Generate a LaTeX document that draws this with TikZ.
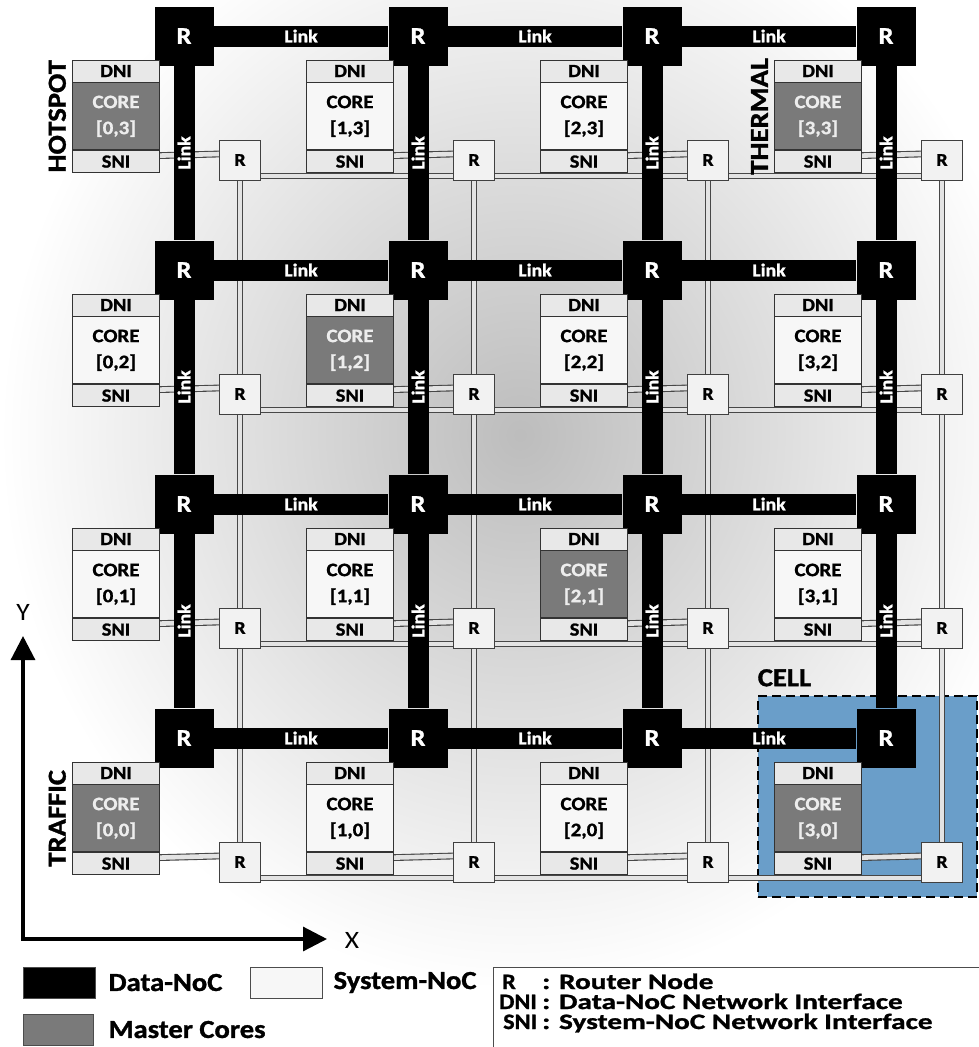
\documentclass[tikz,border=0pt]{standalone}
\usepackage{fontspec}
\setmainfont{Carlito}[FakeStretch=1.1, BoldFeatures={FakeBold=1.2}]
\newfontfamily\keyfont{Carlito}[FakeStretch=1.33, BoldFeatures={FakeBold=1.2}]
\usetikzlibrary{arrows.meta,positioning}
\definecolor{cellblue}{RGB}{106,158,201}
\pgfdeclarelayer{backdrop}
\pgfdeclarelayer{syslinks}
\pgfdeclarelayer{datalinks}
\pgfsetlayers{backdrop,syslinks,datalinks,main}
\tikzset{
  drouter/.style={rectangle, fill=black, minimum size=59pt, inner sep=0pt, text=white, font=\bfseries\fontsize{24}{24}\selectfont},
  srouter/.style={rectangle, draw=black!75, line width=0.8pt, fill=black!5, minimum width=41pt, minimum height=40pt, inner sep=0pt, font=\bfseries\fontsize{18}{18}\selectfont},
  dlink/.style={line width=21pt, draw=black},
  slink/.style={draw=black!72, line width=1.1pt, double=black!11, double distance=4.6pt},
  linktag/.style={text=white, inner sep=0pt, font=\bfseries\fontsize{18}{18}\selectfont},
  nibox/.style={rectangle, draw=black!80, line width=0.8pt, fill=black!9, minimum width=87pt, minimum height=22pt, inner sep=0pt, font=\bfseries\fontsize{18.5}{18.5}\selectfont},
  corebox/.style={rectangle, draw=black!80, line width=0.8pt, fill=black!3, minimum width=87pt, minimum height=67pt, inner sep=0pt, align=center, font=\bfseries\fontsize{19}{26}\selectfont},
  masterbox/.style={corebox, fill=black!52, text=black!7},
  sidetag/.style={rotate=90, inner sep=0pt, font=\bfseries\fontsize{26}{26}\selectfont},
  cellbox/.style={rectangle, draw=black, line width=2.8pt, dash pattern=on 9pt off 5pt, fill=cellblue, minimum width=219pt, minimum height=201pt, inner sep=0pt},
  axisline/.style={line width=3.2pt, {Triangle[length=24pt,width=24pt]}-{Triangle[length=24pt,width=24pt]}},
  axistext/.style={inner sep=0pt, font=\fontsize{25}{25}\selectfont},
  legsq/.style={rectangle, draw=black!70, line width=0.8pt, minimum width=72pt, minimum height=31pt, inner sep=0pt},
  legtext/.style={inner sep=0pt, font=\bfseries\fontsize{26}{26}\selectfont},
  keytext/.style={inner sep=0pt, anchor=base west, font=\bfseries\fontsize{22}{22}\selectfont},
  keydesc/.style={keytext, font=\keyfont\bfseries\fontsize{22}{22}\selectfont}
}
\begin{document}
\begin{tikzpicture}[x=1pt, y=-1pt]
\useasboundingbox (0,0) rectangle (979,1047);
\begin{pgfonlayer}{backdrop}
  \fill[white] (0,0) rectangle (979,1047);
  \shade[inner color=black!26, outer color=white] (0,-120) rectangle (1040,990);
  \node[cellbox] (cell) at (867.5,796.5) {};
\end{pgfonlayer}

% routers of both networks
\foreach \i in {0,...,3} \foreach \j in {0,...,3} {
  \node[drouter] (dr\i\j) at ({184+234*\i},{36+234*(3-\j)}) {R};
  \node[srouter] (sr\i\j) at ({240+234*\i},{160+234*(3-\j)}) {R};
}

% cores with their two network interfaces
\foreach \i/\j/\kind in {0/3/masterbox,1/3/corebox,2/3/corebox,3/3/masterbox,
  0/2/corebox,1/2/masterbox,2/2/corebox,3/2/corebox,
  0/1/corebox,1/1/corebox,2/1/masterbox,3/1/corebox,
  0/0/masterbox,1/0/corebox,2/0/corebox,3/0/masterbox} {
  \node[nibox] (dni\i\j) at ({116+234*\i},{71+234*(3-\j)}) {DNI};
  \node[\kind, below=0pt of dni\i\j] (core\i\j) {CORE\\{[\i,\j]}};
  \node[nibox, below=0pt of core\i\j] (sni\i\j) {SNI};
}

% System-NoC
\begin{pgfonlayer}{syslinks}
\foreach \i in {0,...,3} \foreach \j in {0,...,3} {
  \draw[slink] ([yshift=6pt]sni\i\j.east) -- ([yshift=6pt]sr\i\j.west);
}
\foreach \i in {0,...,3} \foreach \j in {1,2,3} {
  \pgfmathtruncatemacro\k{\j-1}
  \draw[slink] (sr\i\j) -- (sr\i\k);
}
\foreach \i in {0,1,2} \foreach \j in {0,...,3} {
  \pgfmathtruncatemacro\n{\i+1}
  \draw[slink] ([yshift=-16pt]sr\i\j.east) -- ([yshift=-16pt]sr\n\j.west);
}
\end{pgfonlayer}

% Data-NoC
\begin{pgfonlayer}{datalinks}
\foreach \i in {0,...,3} \foreach \j in {1,2,3} {
  \pgfmathtruncatemacro\k{\j-1}
  \draw[dlink] (dr\i\j) -- node[linktag, rotate=90] {Link} (dr\i\k);
}
\foreach \i in {0,1,2} \foreach \j in {0,...,3} {
  \pgfmathtruncatemacro\n{\i+1}
  \draw[dlink] (dr\i\j) -- node[linktag] {Link} (dr\n\j);
}
\end{pgfonlayer}

\node[sidetag, anchor=south] (hotspot) at ([xshift=-6pt]core03.west) {HOTSPOT};
\node[sidetag, anchor=south] (thermal) at ([xshift=-6pt]core33.west) {THERMAL};
\node[sidetag, anchor=south] (traffic) at ([xshift=-6pt]core00.west) {TRAFFIC};
\node[legtext, above right=8pt and 1pt of cell.north west] (celltag) {CELL};

% axes
\coordinate (origin) at (23,939);
\coordinate (ytip) at (23,636);
\coordinate (xtip) at (327,939);
\draw[axisline] (ytip) -- (origin) -- (xtip);
\node[axistext] (ylabel) at (23,612) {Y};
\node[axistext] (xlabel) at (352,940) {X};

% legend
\node[legsq, fill=black] (keydata) at (59,982.5) {};
\node[legtext, right=13pt of keydata] (keydatatext) {Data-NoC};
\node[legsq, fill=black!3] (keysys) at (286,982.5) {};
\node[legtext, right=11pt of keysys] (keysystext) {System-NoC};
\node[legsq, fill=black!52, minimum width=70pt] (keymaster) at (58,1029.5) {};
\node[legtext, right=15pt of keymaster] (keymastertext) {Master Cores};
\node[rectangle, draw=black!70, line width=0.8pt, fill=white, minimum width=500pt, minimum height=90pt, anchor=north west] (keybox) at (493,967) {};
\node[keytext] (keyr) at (502,989) {R};
\node[keydesc] (keyrtext) at (542,989) {: Router Node};
\node[keytext] (keydni) at (499,1009) {DNI};
\node[keydesc] (keydnitext) at (542,1009) {: Data-NoC Network Interface};
\node[keytext] (keysni) at (503,1029) {SNI};
\node[keydesc] (keysnitext) at (542,1029) {: System-NoC Network Interface};
\end{tikzpicture}
\end{document}
